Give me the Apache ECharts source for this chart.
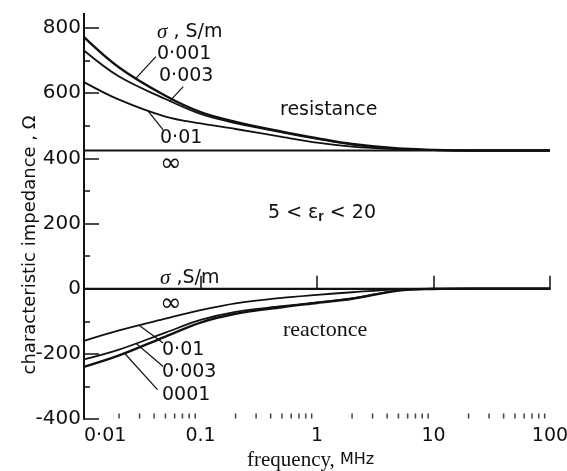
<!DOCTYPE html>
<html>
<head>
<meta charset="utf-8">
<script src="https://cdn.jsdelivr.net/npm/echarts@6/dist/echarts.min.js"></script>
<style>
  html, body { margin: 0; padding: 0; background: #fff; }
  #chart { width: 567px; height: 471px; }
</style>
</head>
<body>
<div id="chart"></div>
<script>
// frequency, MHz
const freq = [0.01, 0.02, 0.05, 0.1, 0.2, 0.5, 1, 2, 5, 10, 20, 100]

// resistance, ohm, per conductivity
const res_0001 = [772, 679, 592, 542, 512, 482, 462, 444, 430, 426, 424, 424]
const res_0003 = [731, 651, 582, 536, 508, 480, 460, 442, 429, 425, 424, 424]
const res_001  = [634, 580, 528, 507, 490, 466, 448, 436, 428, 425, 424, 424]

// reactance, ohm, per conductivity
const xr_0001 = [-240, -205, -147, -104, -77, -57, -44, -31, -6, -1, 0, 0]
const xr_0003 = [-217, -187, -135, -96, -71, -54, -42, -30, -5, -1, 0, 0]
const xr_001  = [-160, -128, -92, -66, -45, -28, -19, -11, -2, 0, 0, 0]

// infinite conductivity: flat lines
const infFreq = [0.01, 100]
const res_inf = [424, 424]
const xr_inf  = [0, 0]

const xTickValues = [0.01, 0.1, 1, 10, 100]
const xTickLabels = ['0·01', '0.1', '1', '10', '100']
const minorTickFreq = [
  0.02, 0.03, 0.04, 0.05, 0.06, 0.07, 0.08, 0.09,
  0.2, 0.3, 0.4, 0.5, 0.6, 0.7, 0.8, 0.9,
  2, 3, 4, 5, 6, 7, 8, 9,
  20, 30, 40, 50, 60, 70, 80, 90,
]

// leader lines from the sigma labels to their curves
const leadR0001 = [[0.0414, 712], [0.028, 646]]
const leadR0003 = [[0.0711, 620], [0.054, 574]]
const leadR001  = [[0.0478, 487], [0.0355, 545]]
const leadX001  = [[0.0478, -167], [0.0301, -114]]
const leadX0003 = [[0.0478, -239], [0.0282, -169]]
const leadX0001 = [[0.0427, -310], [0.0224, -199]]

const SANS = 'DejaVu Sans'
const SERIF = 'Liberation Serif'
const INK = '#111'

const pairs = (xs, ys) => xs.map((x, i) => [x, ys[i]])

function curve(name, xs, ys, width) {
  return {
    name, type: 'line', data: pairs(xs, ys),
    smooth: 0.35,
    showSymbol: false, silent: true, z: 3,
    lineStyle: { color: INK, width },
  }
}

function leader(seg) {
  return {
    type: 'line', data: seg, showSymbol: false, silent: true, z: 4,
    lineStyle: { color: INK, width: 1.2 },
  }
}

function label(x, y, text, extra) {
  return {
    type: 'text', x, y, silent: true, z: 10,
    style: Object.assign({
      text, fill: INK, fontFamily: SANS, fontSize: 19,
      align: 'left', verticalAlign: 'middle',
    }, extra || {}),
  }
}

const chart = echarts.init(document.getElementById('chart'), null, { renderer: 'canvas' })

chart.setOption({
  backgroundColor: '#fff',
  animation: false,
  grid: { left: 84, right: 17, top: 28, bottom: 52, outerBoundsMode: 'none', containLabel: false },
  xAxis: {
    type: 'log', logBase: 10, min: 0.01, max: 100,
    axisLine: { lineStyle: { color: INK, width: 2 } },
    axisTick: { inside: true, length: 13, lineStyle: { color: INK, width: 1.5 } },
    splitLine: { show: false },
    axisLabel: {
      color: INK, fontFamily: SANS, fontSize: 19, margin: 8,
      alignMinLabel: 'left',
      formatter: v => {
        const i = xTickValues.findIndex(t => Math.abs(Math.log10(t) - Math.log10(v)) < 1e-6)
        return i < 0 ? '' : xTickLabels[i]
      },
    },
  },
  yAxis: {
    type: 'value', min: -400, max: 800, interval: 200,
    axisLine: { show: true, lineStyle: { color: INK, width: 2 } },
    axisTick: { show: true, inside: true, length: 15, lineStyle: { color: INK, width: 1.5 } },
    minorTick: { show: true, splitNumber: 2, length: 6, lineStyle: { color: INK, width: 1.5 } },
    splitLine: { show: false },
    axisLabel: { color: INK, fontFamily: SANS, fontSize: 20, margin: 3 },
  },
  series: [
    curve('R 0.001', freq, res_0001, 2.4),
    curve('R 0.003', freq, res_0003, 1.8),
    curve('R 0.01', freq, res_001, 1.8),
    curve('R inf', infFreq, res_inf, 2),
    curve('X 0.001', freq, xr_0001, 2.4),
    curve('X 0.003', freq, xr_0003, 1.8),
    curve('X 0.01', freq, xr_001, 1.8),
    curve('X inf', infFreq, xr_inf, 2),
    leader(leadR0001), leader(leadR0003), leader(leadR001),
    leader(leadX001), leader(leadX0003), leader(leadX0001),
    {
      type: 'scatter', silent: true, clip: false, z: 5,
      data: minorTickFreq.map(f => [f, -400]),
      symbol: 'rect', symbolSize: [1.5, 5], symbolOffset: [0, -3],
      itemStyle: { color: INK },
    },
  ],
})

// y axis line runs a little above the top tick
const axisTop = chart.convertToPixel({ gridIndex: 0 }, [0.01, 800])

chart.setOption({
  graphic: [
    { type: 'line', silent: true, shape: { x1: axisTop[0], y1: axisTop[1] - 15, x2: axisTop[0], y2: axisTop[1] },
      style: { stroke: INK, lineWidth: 2 } },
    label(157, 32, '{s|σ} , S/m', { rich: { s: { fontFamily: SERIF, fontStyle: 'italic', fontSize: 21 } } }),
    label(157, 54, '0·001'),
    label(159, 76, '0·003'),
    label(160, 138, '0·01'),
    label(160, 164, '∞', { fontSize: 26 }),
    label(280, 110, 'resistance'),
    label(268, 213, '5 < ε{sub|r} < 20', { rich: { sub: { fontSize: 14, fontWeight: 'bold', padding: [8, 0, 0, 0] } } }),
    label(160, 278, '{s|σ} ,S/m', { rich: { s: { fontFamily: SERIF, fontStyle: 'italic', fontSize: 21 } } }),
    label(160, 304, '∞', { fontSize: 26 }),
    label(162, 350, '0·01'),
    label(162, 372, '0·003'),
    label(162, 395, '0001'),
    label(283, 330, 'reactonce', { fontFamily: SERIF, fontSize: 22 }),
    label(247, 460, '{f|frequency,} MHz', { fontSize: 16, rich: { f: { fontFamily: SERIF, fontSize: 21 } } }),
    {
      type: 'text', x: 30, y: 245, rotation: Math.PI / 2, silent: true,
      style: { text: 'characteristic impedance , Ω', fill: INK, fontFamily: SANS, fontSize: 18,
               align: 'center', verticalAlign: 'middle' },
    },
  ],
})

window.addEventListener('resize', () => chart.resize())
</script>
</body>
</html>
